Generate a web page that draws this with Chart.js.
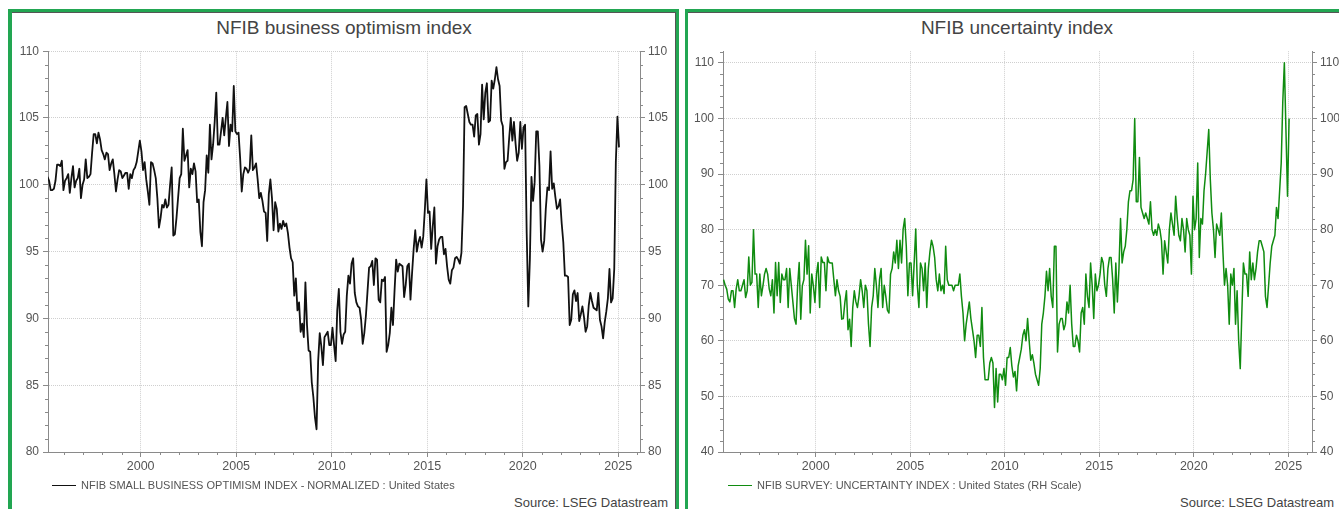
<!DOCTYPE html>
<html>
<head>
<meta charset="utf-8">
<script src="https://cdn.jsdelivr.net/npm/chart.js@4.4.1/dist/chart.umd.min.js"></script>
<style>
  html, body { margin: 0; padding: 0; background: #fff; overflow: hidden; width: 1339px; height: 509px; }
  body { position: relative; font-family: "Liberation Sans", Arial, sans-serif; }
  .panel { position: absolute; top: 9px; height: 520px; box-sizing: border-box;
           border: 3px solid #22a652; border-bottom: none; box-shadow: inset -1px 1px 0 #555; }
  .title { position: absolute; top: 18px; font-size: 19px; line-height: 19px; color: #444; white-space: nowrap; transform: translateX(-50%); }
  .legend { position: absolute; top: 480px; font-size: 11px; line-height: 11px; color: #555; white-space: nowrap; }
  .legend i { position: absolute; top: 5px; width: 24px; height: 0; }
  .legend span { position: absolute; left: 29px; top: 0; }
  .source { position: absolute; top: 496px; font-size: 13px; line-height: 13px; color: #444; white-space: nowrap; text-align: right; }
  canvas { position: absolute; }
</style>
</head>
<body>

<div class="panel" style="left:8px;width:671px;border-left-width:4px"></div>
<div class="panel" style="left:685px;width:670px"></div>

<div class="title" style="left:344px">NFIB business optimism index</div>
<div class="title" style="left:1017px">NFIB uncertainty index</div>

<canvas id="chartOpt" width="672" height="440" style="left:8px;top:40px"></canvas>
<canvas id="chartUnc" width="666" height="440" style="left:684px;top:40px"></canvas>

<div class="legend" style="left:52px"><i style="border-top:1.5px solid #111"></i><span>NFIB SMALL BUSINESS OPTIMISM INDEX - NORMALIZED : United States</span></div>
<div class="legend" style="left:728px"><i style="border-top:1.5px solid #108c10"></i><span>NFIB SURVEY: UNCERTAINTY INDEX : United States (RH Scale)</span></div>

<div class="source" style="right:671px">Source: LSEG Datastream</div>
<div class="source" style="right:5px">Source: LSEG Datastream</div>

<script>
// ── data: monthly, first value = Feb 1995, last = Jan 2025 ──────────
const firstYear  = 1995;
const firstMonth = 2;

const optimism = [
  100.6, 100.3, 99.6, 99.6, 99.7, 100.3, 101.5, 101.5, 101.4, 101.8, 99.6,   // 1995
  100.3, 100.5, 100.8, 99.4, 100.5, 101.4, 99.8, 100.3, 100.5, 101.2, 99.0, 100.0, // 1996
  100.4, 101.9, 100.5, 100.6, 100.8, 102.4, 103.8, 103.8, 103.1, 103.9, 103.4, 102.6, // 1997
  102.3, 101.9, 102.4, 102.3, 101.1, 101.6, 101.9, 100.8, 99.5, 100.4, 101.1, 101.0, // 1998
  100.5, 100.7, 100.9, 100.9, 99.7, 100.8, 100.5, 101.1, 101.3, 101.7, 102.5, 103.3, // 1999
  102.5, 101.1, 101.7, 100.4, 99.5, 98.5, 101.7, 101.6, 101.1, 100.5, 99.0, 96.8,    // 2000
  97.5, 98.5, 98.3, 98.9, 98.3, 98.5, 100.0, 101.3, 96.2, 96.3, 97.5, 99.0,          // 2001
  100.5, 100.8, 104.2, 101.8, 102.2, 102.6, 99.8, 101.2, 100.8, 101.6, 101.0, 98.7,  // 2002
  98.9, 96.5, 95.4, 98.7, 99.6, 102.2, 100.9, 104.5, 101.9, 103.0, 104.7, 106.9,     // 2003
  103.0, 103.0, 104.0, 105.0, 103.7, 105.0, 106.2, 102.9, 104.5, 104.0, 107.4, 104.0, // 2004
  103.8, 103.9, 102.0, 99.5, 100.8, 101.3, 101.2, 100.9, 101.2, 103.7, 101.1, 101.3, // 2005
  101.6, 100.4, 99.0, 99.4, 98.8, 98.0, 97.9, 95.8, 99.3, 100.4, 99.0, 96.6,         // 2006
  98.7, 98.2, 96.5, 97.1, 96.7, 97.3, 96.9, 97.1, 96.4, 95.3, 94.5, 94.2,            // 2007
  91.7, 93.0, 90.6, 91.2, 89.0, 89.6, 88.6, 92.7, 89.5, 87.6, 87.5, 85.2,            // 2008
  84.1, 82.6, 81.7, 86.8, 88.9, 87.9, 86.5, 88.6, 88.8, 89.0, 88.0, 88.0,            // 2009
  89.3, 88.0, 86.8, 90.6, 92.2, 89.0, 88.1, 88.8, 89.0, 91.7, 93.2, 92.6,            // 2010
  94.1, 94.5, 91.9, 91.2, 90.9, 90.8, 89.9, 88.1, 88.9, 90.2, 92.0, 93.8,            // 2011
  93.9, 94.3, 92.5, 94.5, 94.4, 91.4, 91.2, 92.9, 92.8, 93.1, 87.5, 88.0,            // 2012
  88.9, 90.8, 89.5, 92.1, 94.4, 93.5, 94.1, 94.0, 93.9, 91.6, 92.5, 93.9,            // 2013
  94.1, 91.4, 93.4, 95.2, 96.6, 95.0, 95.7, 96.1, 95.3, 96.1, 98.1, 100.4,           // 2014
  97.9, 98.0, 95.2, 96.9, 98.3, 94.1, 95.4, 95.9, 96.1, 96.1, 94.8, 95.2,            // 2015
  93.9, 92.9, 92.6, 93.6, 93.8, 94.5, 94.6, 94.4, 94.1, 94.9, 98.4, 105.8,           // 2016
  105.9, 105.3, 104.7, 104.5, 104.5, 103.6, 105.2, 105.3, 103.0, 103.8, 107.5, 104.9, // 2017
  106.9, 107.6, 104.7, 104.8, 107.8, 107.2, 107.9, 108.8, 107.9, 107.4, 104.8, 104.4, // 2018
  101.2, 101.7, 101.8, 103.5, 105.0, 103.3, 104.7, 103.1, 101.8, 102.4, 104.7, 102.7, // 2019
  104.3, 104.5, 96.4, 90.9, 94.4, 100.6, 98.8, 100.2, 104.0, 104.0, 101.4, 95.9,     // 2020
  95.0, 95.8, 98.2, 99.8, 99.6, 102.5, 99.7, 100.1, 99.1, 98.2, 98.4, 98.9,          // 2021
  97.1, 95.7, 93.2, 93.2, 93.1, 89.5, 89.9, 91.8, 92.1, 91.3, 91.9, 89.8,            // 2022
  90.3, 90.9, 90.1, 89.0, 89.4, 91.0, 91.9, 91.3, 90.8, 90.7, 90.6, 91.9,            // 2023
  89.9, 89.4, 88.5, 89.7, 90.5, 91.5, 93.7, 91.2, 91.5, 93.7, 101.7, 105.1,          // 2024
  102.8                                                                              // 2025
];

const uncertainty = [
  71, 70, 69.3, 67.5, 67, 69, 69, 66, 69.3, 71, 69,          // 1995
  69, 70, 71, 67.8, 69, 75.1, 70, 70.5, 80, 72, 72, 66,      // 1996
  72, 68.1, 69.9, 72, 73, 72, 69.3, 68.1, 71, 65, 74.1, 68.1, // 1997
  74.1, 66.9, 72, 71, 71, 73, 66, 73, 70, 67, 64, 63,        // 1998
  69.9, 74.1, 63.9, 69.9, 71, 78.1, 72, 77.1, 65, 72, 69.9, 66.9, // 1999
  72, 74.1, 66, 75.1, 74.1, 74.1, 69, 75.1, 74.1, 74, 74, 71, // 2000
  68.1, 71, 69, 68, 63.9, 64, 66.9, 69, 62, 63.9, 59, 66,    // 2001
  69, 67, 66, 68.1, 71, 69, 66, 70, 69, 63, 59, 66,          // 2002
  68.1, 73, 70, 66, 71, 73, 66, 70, 68, 65.5, 65, 72,        // 2003
  73, 76, 74, 78.1, 73, 78.1, 74, 80.1, 82, 77, 68.1, 74,    // 2004
  74, 68.1, 74, 80.1, 70, 66, 74, 73, 69, 74, 66, 73,        // 2005
  76, 78.1, 77, 75, 71, 69, 72, 69, 70, 68.5, 77, 71,        // 2006
  70, 70, 70, 69, 70, 70, 70, 72, 68, 65, 60, 63,            // 2007
  65, 67, 64, 62, 60, 57, 61, 61, 59, 66, 57, 53,            // 2008
  53, 53, 56, 57, 56, 48, 55, 49, 54, 54, 53, 55,            // 2009
  52, 57, 57, 58.8, 55.5, 53.5, 54.5, 51, 55.5, 57, 58.5, 61, // 2010
  62, 60, 64, 60, 56.5, 57.5, 56, 54, 53, 52, 55, 63,        // 2011
  65, 68, 72.5, 69, 73, 68, 66, 77, 77, 58, 63, 64,          // 2012
  64, 62, 63, 67, 65, 70, 63, 59, 59, 61, 60, 58,            // 2013
  65, 66, 63, 72, 68, 66, 74, 70, 64, 72, 69, 70,            // 2014
  72, 75, 74, 70, 68, 73, 75, 75, 71, 65, 74, 67,            // 2015
  73, 82, 74, 76, 77, 80, 85, 87, 87, 89, 100, 85,           // 2016
  85, 93, 84, 83, 82, 83, 82, 81, 85, 80, 79, 80,            // 2017
  79, 81, 80, 78, 72, 78, 76, 74, 80, 83, 81, 79,            // 2018
  86, 82, 79, 78, 82, 80, 76, 82, 80, 79, 72, 86,            // 2019
  80, 82, 92, 75, 82, 81, 87, 90, 94, 98, 89, 83,            // 2020
  80, 75, 81, 80, 79, 83, 76, 70, 73, 70, 63, 72,            // 2021
  70, 73, 63, 69, 60, 55, 65, 74, 72, 72, 68, 76,            // 2022
  71, 74, 71, 73, 76, 78, 78, 77, 76, 68, 66, 70,            // 2023
  74, 77, 78, 79, 84, 82, 87, 92, 103, 110, 98, 86,          // 2024
  100                                                        // 2025
];

// tick labels
const yearTicks        = [2000, 2005, 2010, 2015, 2020, 2025];
const optimismTicks    = [80, 85, 90, 95, 100, 105, 110];
const uncertaintyTicks = [40, 50, 60, 70, 80, 90, 100, 110];

// minor tick marks
const yearMinor        = [1996, 1997, 1998, 1999, 2001, 2002, 2003, 2004, 2006, 2007, 2008, 2009,
                          2011, 2012, 2013, 2014, 2016, 2017, 2018, 2019, 2021, 2022, 2023, 2024, 2026];
const optimismMinor    = [81, 82, 83, 84, 86, 87, 88, 89, 91, 92, 93, 94, 96, 97, 98, 99,
                          101, 102, 103, 104, 106, 107, 108, 109];
const uncertaintyMinor = [42, 44, 46, 48, 52, 54, 56, 58, 62, 64, 66, 68, 72, 74, 76, 78,
                          82, 84, 86, 88, 92, 94, 96, 98, 102, 104, 106, 108, 112];

// month mid-points as decimal years
const monthX = i => firstYear + (firstMonth - 1 + i + 0.5) / 12;
const toPoints = arr => arr.map((v, i) => ({ x: monthX(i), y: v }));

// ── helpers ─────────────────────────────────────────
const FONT = '"Liberation Sans", Arial, sans-serif';
const AXIS = '#8a8a8a';
const GRID = '#cfcfcf';

const minorTicks = {
  id: 'minorTicks',
  afterDraw(chart, args, opts) {
    const { ctx, chartArea: a, scales } = chart;
    ctx.save();
    ctx.strokeStyle = AXIS;
    ctx.lineWidth = 1;
    ctx.beginPath();
    opts.x.forEach(v => {
      const px = scales.x.getPixelForValue(v);
      if (px < a.left || px > a.right) return;
      const x = Math.round(px) + 0.5;
      ctx.moveTo(x, a.bottom); ctx.lineTo(x, a.bottom + 3);
    });
    opts.y.forEach(v => {
      const py = scales.y.getPixelForValue(v);
      if (py < a.top - 1 || py > a.bottom) return;
      const y = Math.round(py) + 0.5;
      ctx.moveTo(a.left - 3, y); ctx.lineTo(a.left, y);
      ctx.moveTo(a.right, y); ctx.lineTo(a.right + 3, y);
    });
    ctx.stroke();
    ctx.restore();
  }
};

function yAxis(pos, min, max, ticks, width, onArea) {
  return {
    type: 'linear', position: pos, min, max,
    afterBuildTicks: s => { s.ticks = ticks.map(v => ({ value: v })); },
    afterFit: s => { s.width = width; },
    grid: { display: true, drawOnChartArea: onArea, color: GRID, lineWidth: 1,
            tickLength: 5, tickColor: AXIS, tickBorderDash: [] },
    border: { display: true, color: AXIS, width: 1, dash: [1, 1] },
    ticks: { color: '#555', padding: pos === 'left' ? 4 : 3, font: { family: FONT, size: 12 },
             autoSkip: false, callback: v => String(v) }
  };
}

function xAxis(min, max) {
  return {
    type: 'linear', position: 'bottom', min, max,
    afterBuildTicks: s => { s.ticks = yearTicks.map(v => ({ value: v })); },
    afterFit: s => { s.height = 28; },
    grid: { display: true, color: GRID, lineWidth: 1, tickLength: 5, tickColor: AXIS, tickBorderDash: [] },
    border: { display: true, color: AXIS, width: 1, dash: [1, 1] },
    ticks: { color: '#555', padding: 2, maxRotation: 0, autoSkip: false,
             font: { family: FONT, size: 12.5 }, callback: v => String(v) }
  };
}

function makeChart(id, values, color, width, xr, yr, ticks, minorY, pad, wl, wr) {
  return new Chart(document.getElementById(id), {
    type: 'line',
    data: { datasets: [{ data: toPoints(values), borderColor: color, borderWidth: width,
                         pointRadius: 0, tension: 0, fill: false, borderJoinStyle: 'round' }] },
    options: {
      responsive: false, animation: false, devicePixelRatio: 1,
      layout: { padding: { top: pad, left: 0, right: 0, bottom: 0 } },
      plugins: { legend: { display: false }, tooltip: { enabled: false },
                 minorTicks: { x: yearMinor, y: minorY } },
      scales: {
        x: xAxis(xr[0], xr[1]),
        y: yAxis('left', yr[0], yr[1], ticks, wl, true),
        y2: yAxis('right', yr[0], yr[1], ticks, wr, false)
      }
    },
    plugins: [minorTicks]
  });
}

makeChart('chartOpt', optimism, '#111', 1.8, [1995.15, 2026.14], [80, 110],
          optimismTicks, optimismMinor, 11, 40, 40);
makeChart('chartUnc', uncertainty, '#108c10', 1.5, [1995.095, 2026.254], [40, 112.1],
          uncertaintyTicks, uncertaintyMinor, 10, 39, 38);
</script>
</body>
</html>
